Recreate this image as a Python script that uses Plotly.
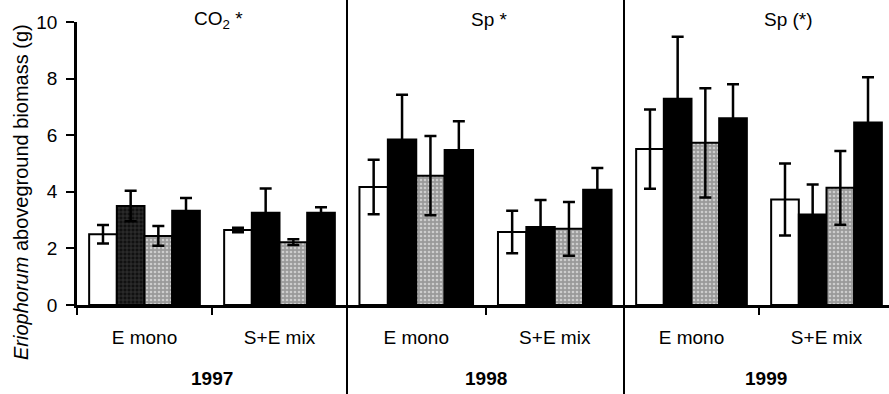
import plotly.graph_objects as go

# ---------------- data ----------------
groups = ["E mono", "S+E mix"]
years = ["1997", "1998", "1999"]
panel_titles = ["CO<sub>2</sub> *", "Sp *", "Sp (*)"]

# four treatments (white, dark hatched, light stippled, black); one list per year
white_vals = [[2.50, 2.65], [4.17, 2.58], [5.51, 3.73]]
white_err = [[0.33, 0.08], [0.96, 0.75], [1.40, 1.27]]
hatch_vals = [[3.50, 3.26], [5.85, 2.76], [7.29, 3.20]]
hatch_err = [[0.54, 0.86], [1.58, 0.95], [2.19, 1.06]]
light_vals = [[2.44, 2.22], [4.57, 2.69], [5.73, 4.14]]
light_err = [[0.35, 0.10], [1.40, 0.95], [1.93, 1.30]]
black_vals = [[3.33, 3.26], [5.48, 4.07], [6.60, 6.45]]
black_err = [[0.45, 0.19], [1.01, 0.77], [1.20, 1.60]]

y_ticks = [0, 2, 4, 6, 8, 10]

# ---------------- layout geometry ----------------
W, H = 889, 394
ML, MR, MT, MB = 77, 0, 22, 89
PW = W - ML - MR
PH = H - MT - MB


def px_x(px):
    return (px - ML) / PW


def px_y(py):
    return 1 - (py - MT) / PH


domains = [[0, px_x(347)], [px_x(347), px_x(624)], [px_x(624), 1.0]]

FONT = "Liberation Sans, Arial, sans-serif"

fig = go.Figure()

series = [
    ("white", white_vals, white_err, dict(color="white")),
    ("hatched", hatch_vals, hatch_err, dict(color="#000000")),
    ("light", light_vals, light_err,
     dict(color="#a9a9a9",
          pattern=dict(shape=".", fgcolor="#ffffff", bgcolor="#9a9a9a", size=4, solidity=0.35))),
    ("black", black_vals, black_err, dict(color="#000000")),
]

for p in range(3):
    xa = "x" if p == 0 else f"x{p + 1}"
    for name, vals, errs, mk in series:
        marker = dict(mk)
        marker["line"] = dict(color="black", width=2)
        if name == "hatched" and p == 0:
            marker["pattern"] = dict(shape=["+", ""], fgcolor="#6a6a6a", bgcolor="#111111",
                                     size=4, solidity=0.3)
        fig.add_trace(go.Bar(
            x=groups, y=vals[p], name=name, xaxis=xa, yaxis="y",
            marker=marker, showlegend=False,
            error_y=dict(type="data", array=errs[p], visible=True, color="black",
                         thickness=2.5, width=6),
        ))

axis_common = dict(
    type="category", showline=True, linecolor="black", linewidth=2.5,
    ticks="outside", ticklen=7, tickwidth=2, tickcolor="black",
    tickson="boundaries", showgrid=False, zeroline=False,
    tickfont=dict(family=FONT, size=19, color="black"),
    ticklabelstandoff=13, anchor="y", fixedrange=True,
)

fig.update_layout(
    width=W, height=H,
    margin=dict(l=ML, r=MR, t=MT, b=MB, pad=0),
    paper_bgcolor="white", plot_bgcolor="white",
    barmode="group", bargap=0.18, bargroupgap=0,
    font=dict(family=FONT, color="black"),
    xaxis=dict(domain=domains[0], range=[-0.5, 1.5], **axis_common),
    xaxis2=dict(domain=domains[1], range=[-0.5, 1.5], **axis_common),
    xaxis3=dict(domain=domains[2], range=[-0.5, 1.5 - 5 / 135], **axis_common),
    yaxis=dict(range=[0, 10], tickvals=y_ticks, showline=True, linecolor="black",
               linewidth=2.5, ticks="outside", ticklen=8, tickwidth=2,
               tickcolor="black", showgrid=False, zeroline=False,
               tickfont=dict(family=FONT, size=19, color="black"),
               ticklabelstandoff=5, fixedrange=True),
)

# vertical dividers between years
for xp in [347, 624]:
    fig.add_shape(type="line", xref="paper", yref="paper",
                  x0=px_x(xp), x1=px_x(xp), y0=px_y(H), y1=px_y(0),
                  line=dict(color="black", width=2))

# panel titles
title_x = [218, 490, 788]
for t, xp in zip(panel_titles, title_x):
    fig.add_annotation(text=t, xref="paper", yref="paper", x=px_x(xp), y=px_y(20),
                       xanchor="center", yanchor="middle", showarrow=False,
                       font=dict(family=FONT, size=19, color="black"))

# year labels
year_x = [212, 486, 766]
for yr, xp in zip(years, year_x):
    fig.add_annotation(text=f"<b>{yr}</b>", xref="paper", yref="paper", x=px_x(xp),
                       y=px_y(378), xanchor="center", yanchor="middle", showarrow=False,
                       font=dict(family=FONT, size=19, color="black"))

# y axis title
fig.add_annotation(text="<i>Eriophorum</i> aboveground biomass (g)", xref="paper",
                   yref="paper", x=px_x(21), y=px_y(192), xanchor="center",
                   yanchor="middle", textangle=-90, showarrow=False,
                   font=dict(family=FONT, size=20, color="black"))

fig.write_html("out.html")
